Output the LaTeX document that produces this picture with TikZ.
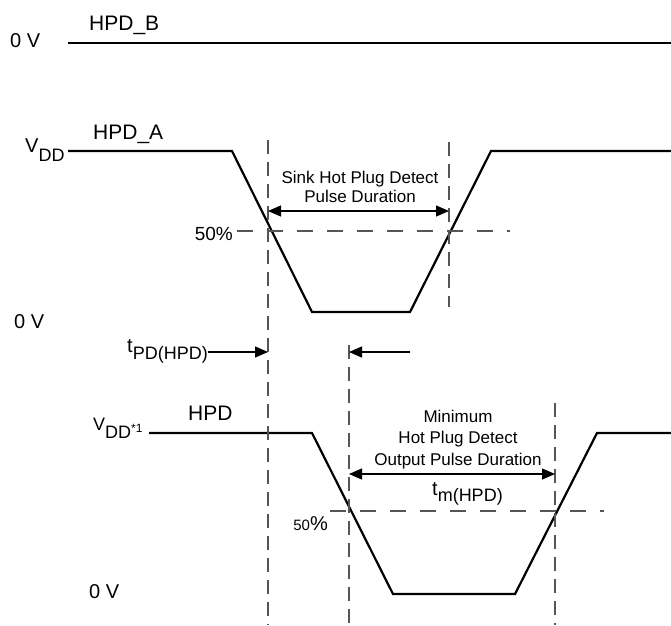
\documentclass[tikz,border=0pt]{standalone}
\usepackage{fontspec}
\setmainfont{Liberation Sans}
\usetikzlibrary{arrows.meta}
\definecolor{dgray}{HTML}{555555}
\newcommand\fs[1]{\fontsize{#1}{#1}\selectfont}
\begin{document}
\begin{tikzpicture}[x=1pt,y=-1pt,
  sig/.style={line width=2.2pt, line join=miter},
  vguide/.style={draw=dgray, line width=1.3pt, dash pattern=on 14pt off 8pt},
  hguide/.style={draw=dgray, line width=1.2pt, dash pattern=on 16pt off 14pt},
  dim/.style={line width=1.2pt},
  tipboth/.style={dim, {Triangle[length=13pt,width=11pt]}-{Triangle[length=13pt,width=11pt]}},
  tipend/.style={dim, -{Triangle[length=13pt,width=11pt]}},
  lab/.style={inner sep=0pt, font=\fs{20}},
  big/.style={inner sep=0pt, font=\fs{21}},
  small/.style={inner sep=0pt, font=\fs{17}, anchor=base}
]
\useasboundingbox (0,0) rectangle (671,625);

% ---------- HPD_B ----------
\node[lab, anchor=base west] (zeroB) at (10,47) {0 V};
\node[big, anchor=base west] (nameB) at (89,30) {HPD\_B};
\coordinate (b0) at (68,43);
\coordinate (b1) at (671,43);
\draw[sig] (b0) -- (b1);

% ---------- HPD_A ----------
\node[lab, anchor=base west] (vddA) at (25,152) {V\raisebox{-9pt}{\fs{18}DD}};
\node[big, anchor=base west] (nameA) at (93,139) {HPD\_A};
\node[lab, anchor=base west] (zeroA) at (14,328) {0 V};
\coordinate (a0) at (68,151);
\coordinate (a1) at (232,151);
\coordinate (a2) at (312,312);
\coordinate (a3) at (410,312);
\coordinate (a4) at (491,151);
\coordinate (a5) at (671,151);
\draw[sig] (a0) -- (a1) -- (a2) -- (a3) -- (a4) -- (a5);

% ---------- HPD ----------
\node[lab, anchor=base west] (vddH) at (93,430) {\fs{18}V\raisebox{-8pt}{DD}\raisebox{-2pt}{\fs{12}*1}};
\node[big, anchor=base west] (nameH) at (188,420) {HPD};
\node[lab, anchor=base west] (zeroH) at (89,598) {0 V};
\coordinate (h0) at (149,433);
\coordinate (h1) at (312,433);
\coordinate (h2) at (393,594);
\coordinate (h3) at (515,594);
\coordinate (h4) at (597,433);
\coordinate (h5) at (671,433);
\draw[sig] (h0) -- (h1) -- (h2) -- (h3) -- (h4) -- (h5);

% ---------- guides ----------
\coordinate (g1t) at (268,140); \coordinate (g1b) at (268,625);
\coordinate (g2t) at (449,142); \coordinate (g2b) at (449,307);
\coordinate (g3t) at (349,345); \coordinate (g3b) at (349,625);
\coordinate (g4t) at (555,403); \coordinate (g4b) at (555,625);
\draw[vguide] (g1t) -- (g1b);
\draw[vguide] (g2t) -- (g2b);
\draw[vguide] (g3t) -- (g3b);
\draw[vguide] (g4t) -- (g4b);

\node[lab, anchor=base east, font=\fs{19}] (pA) at (233,240) {50\%};
\coordinate (pAl) at (237,231); \coordinate (pAr) at (510,231);
\draw[hguide] (pAl) -- (pAr);

\node[lab, anchor=base east] (pH) at (328,530) {{\fs{15}50}\%};
\coordinate (pHl) at (330,511); \coordinate (pHr) at (604,511);
\draw[hguide] (pHl) -- (pHr);

% ---------- sink pulse ----------
\node[small] (sink1) at (360,183) {Sink Hot Plug Detect};
\node[small] (sink2) at (360,202) {Pulse Duration};
\coordinate (sL) at (268,211); \coordinate (sR) at (449,211);
\draw[tipboth] (sL) -- (sR);

% ---------- propagation delay ----------
\node[lab, anchor=base west] (tpd) at (127,352) {t\raisebox{-7pt}{\fs{18}PD(HPD)}};
\coordinate (tpdE) at (268,352);
\draw[tipend] (tpd.east |- tpdE) -- (tpdE);
\coordinate (tpd2s) at (410,352); \coordinate (tpd2e) at (349,352);
\draw[tipend] (tpd2s) -- (tpd2e);

% ---------- minimum pulse ----------
\node[small] (min1) at (458,422) {Minimum};
\node[small] (min2) at (458,443) {Hot Plug Detect};
\node[small] (min3) at (458,465) {Output Pulse Duration};
\coordinate (mL) at (349,474); \coordinate (mR) at (555,474);
\draw[tipboth] (mL) -- (mR);
\node[lab, anchor=base west] (tm) at (432,495) {t\raisebox{-6pt}{\fs{18}m(HPD)}};
\end{tikzpicture}
\end{document}
